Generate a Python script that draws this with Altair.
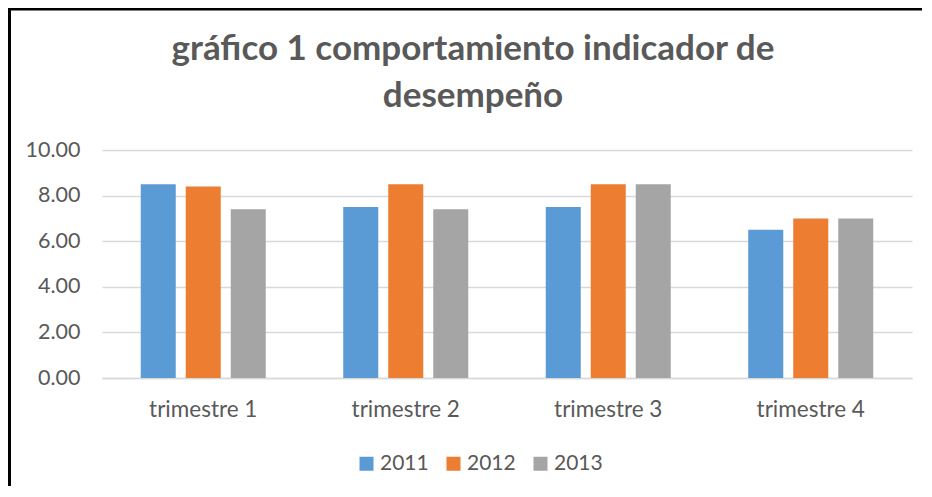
import altair as alt
import pandas as pd

categories = ["trimestre 1", "trimestre 2", "trimestre 3", "trimestre 4"]
years = ["2011", "2012", "2013"]
v2011 = [8.5, 7.5, 7.5, 6.5]
v2012 = [8.4, 8.5, 8.5, 7.0]
v2013 = [7.4, 7.4, 8.5, 7.0]
colors = ["#5B9BD5", "#ED7D31", "#A5A5A5"]
y_ticks = [0, 2, 4, 6, 8, 10]

rows = []
for yr, vals in zip(years, [v2011, v2012, v2013]):
    for c, v in zip(categories, vals):
        rows.append({"trimestre": c, "año": yr, "valor": v})
df = pd.DataFrame(rows)

FONT = "Lato"
GRAY = "#595959"

bars = alt.Chart(df).mark_bar().encode(
    x=alt.X("trimestre:N", sort=categories,
            scale=alt.Scale(paddingInner=0, paddingOuter=0),
            axis=alt.Axis(title=None, labelAngle=0, ticks=False, domain=True,
                          domainColor="#d9d9d9", domainWidth=1.5,
                          labelPadding=20, labelFontSize=22.5, labelColor=GRAY,
                          labelFont=FONT)),
    xOffset=alt.XOffset("año:N", sort=years,
                        scale=alt.Scale(paddingInner=0.222, paddingOuter=0.861)),
    y=alt.Y("valor:Q", scale=alt.Scale(domain=[0, 10]),
            axis=alt.Axis(title=None, values=y_ticks, format=".2f", ticks=False,
                          domain=False, gridColor="#d9d9d9", gridWidth=1.5,
                          labelPadding=22, labelFontSize=21.5, labelColor=GRAY,
                          labelFont=FONT)),
    color=alt.Color("año:N", sort=years,
                    scale=alt.Scale(domain=years, range=colors),
                    legend=alt.Legend(title=None, orient="none", direction="horizontal",
                                      legendX=254, legendY=303,
                                      symbolType="square", symbolSize=196,
                                      symbolStrokeWidth=0, labelFontSize=21,
                                      labelColor=GRAY, labelFont=FONT,
                                      columnPadding=14, labelOffset=3)),
)

frame_df = pd.DataFrame({"k": [0]})
left_border = alt.Chart(frame_df).mark_rule(color="black", strokeWidth=3).encode(
    x=alt.value(-92.5), y=alt.value(-142), y2=alt.value(400))
top_border = alt.Chart(frame_df).mark_rule(color="black", strokeWidth=3).encode(
    y=alt.value(-141), x=alt.value(-94), x2=alt.value(840))

chart = alt.layer(bars, left_border, top_border).properties(
    width=810, height=228,
    padding={"left": 94, "top": 142, "right": 10, "bottom": 108},
    autosize=alt.AutoSizeParams(type="none"),
    title=alt.TitleParams(
        text=["gráfico 1 comportamiento indicador de", "desempeño"],
        font=FONT, fontSize=35, fontWeight="bold", color=GRAY,
        anchor="middle", frame="group", dx=-34, offset=-107, lineHeight=47),
).configure_view(stroke=None)

chart.save("out.html", embed_options={"renderer": "svg", "actions": False})
